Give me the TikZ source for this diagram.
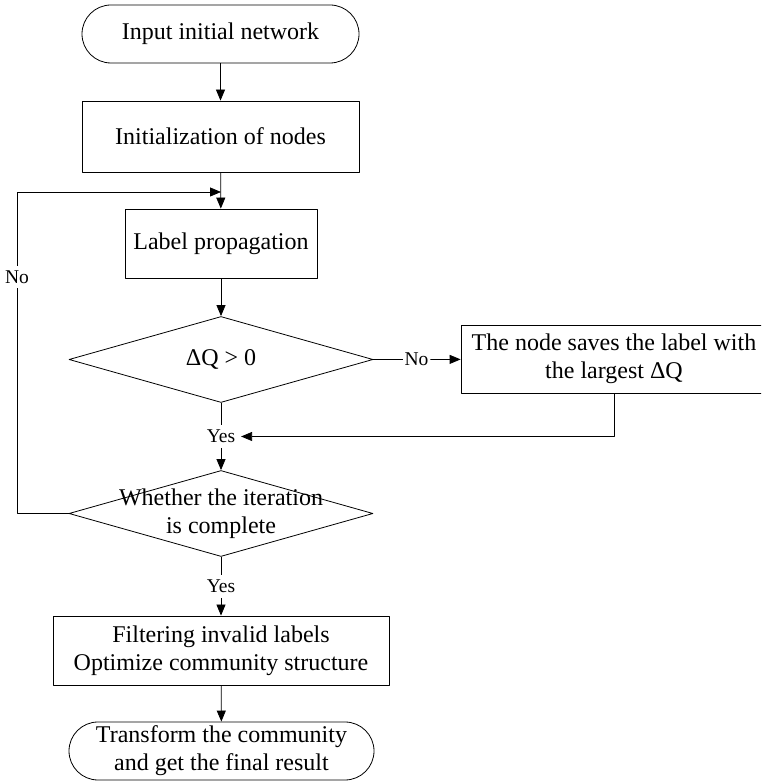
\documentclass[tikz,border=0pt]{standalone}
\usepackage{fontspec}
\setmainfont{Liberation Serif}
\usetikzlibrary{shapes.geometric,arrows.meta}
\begin{document}
\begin{tikzpicture}[x=1pt,y=1pt,line width=.8pt,line join=round,>={Triangle[length=11pt,width=9pt]},font=\fontsize{24}{28}\selectfont,
	term/.style={draw,rounded corners=29pt,inner sep=0pt,minimum height=58pt,align=center},
	proc/.style={draw,inner sep=0pt,align=center},
	decision/.style={draw,diamond,inner sep=0pt,minimum width=304pt,minimum height=86pt},
	lab/.style={fill=white,inner xsep=1.5pt,inner ysep=4.5pt,font=\fontsize{19.5}{22}\selectfont}]
	\useasboundingbox (0,0) rectangle (761,781);
	\clip (0,0) rectangle (761,781);
	\node[term,minimum width=277pt] (input) at (220.5,747) {Input initial network};
	\node[proc,minimum width=277pt,minimum height=71pt] (init) at (220.5,644.5) {Initialization of nodes};
	\node[proc,minimum width=192pt,minimum height=69pt] (prop) at (221,537.5) {Label propagation};
	\node[decision] (dq) at (221,421.5) {};
	\node at (dq) {ΔQ > 0};
	\node[proc,minimum width=306pt,minimum height=68pt] (save) at (614,422) {The node saves the label with\\the largest ΔQ};
	\node[decision] (iter) at (221,267.5) {};
	\node[align=center] at (iter) {Whether the iteration\\is complete};
	\node[proc,minimum width=336pt,minimum height=69pt] (filt) at (221,130.5) {Filtering invalid labels\\Optimize community structure};
	\node[term,minimum width=305pt] (result) at (221.5,30) {Transform the community\\and get the final result};
	\node[lab] (nodq) at (416.5,421.5) {No};
	\node[lab] (yesdq) at (221,344.5) {Yes};
	\node[lab] (yesit) at (221,194.5) {Yes};
	\coordinate (fb) at (221,589);
	\coordinate (lp) at (17,589);
	\draw[->] (input) -- (init);
	\draw[->] (init) -- (prop);
	\draw[->] (prop) -- (dq);
	\draw (dq.east) -- (nodq);
	\draw[->] (nodq) -- (save);
	\draw (dq) -- (yesdq);
	\draw[->,shorten >=4pt] (save.south) |- (yesdq);
	\draw[->] (yesdq) -- (iter);
	\draw[->] (iter.west) -| node[lab,pos=.868]{No} (lp) -- (fb);
	\draw (iter) -- (yesit);
	\draw[->] (yesit) -- (filt);
	\draw[->] (filt) -- (result);
\end{tikzpicture}
\end{document}
